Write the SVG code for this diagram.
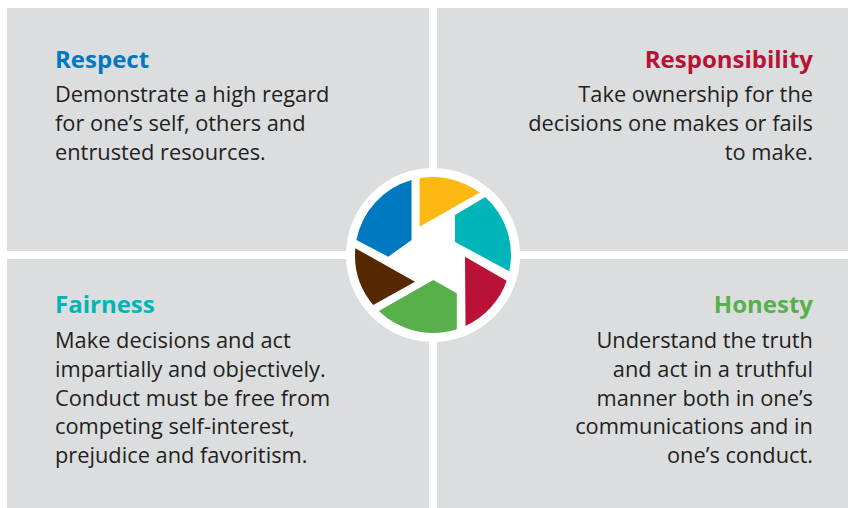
<svg xmlns="http://www.w3.org/2000/svg" width="848" height="508" viewBox="0 0 848 508">
  <style>
    .panel { fill: #DCDDDF; }
    .head { font-family: "Open Sans", "Noto Sans", "Liberation Sans", sans-serif; font-weight: 700; font-size: 24px; }
    .body { font-family: "Open Sans", "Noto Sans", "Liberation Sans", sans-serif; font-weight: 400; font-size: 21.8px; fill: #231F20; }
    .r { text-anchor: end; }
  </style>
  <rect width="848" height="508" fill="#FFFFFF"/>
  <g id="respect">
    <rect class="panel" x="7" y="8" width="422" height="243"/>
    <text class="head" x="55" y="68" fill="#0079C1">Respect</text>
    <text class="body" x="55" y="102">Demonstrate a high regard</text>
    <text class="body" x="55" y="131">for one’s self, others and</text>
    <text class="body" x="55" y="160">entrusted resources.</text>
  </g>
  <g id="responsibility">
    <rect class="panel" x="437" y="8" width="411" height="243"/>
    <text class="head r" x="813" y="68" fill="#BA1237">Responsibility</text>
    <text class="body r" x="813" y="102">Take ownership for the</text>
    <text class="body r" x="813" y="131">decisions one makes or fails</text>
    <text class="body r" x="813" y="160">to make.</text>
  </g>
  <g id="fairness">
    <rect class="panel" x="7" y="259" width="422" height="249"/>
    <text class="head" x="55" y="313" fill="#00B5B8">Fairness</text>
    <text class="body" x="55" y="348">Make decisions and act</text>
    <text class="body" x="55" y="377">impartially and objectively.</text>
    <text class="body" x="55" y="405.5">Conduct must be free from</text>
    <text class="body" x="55" y="434">competing self-interest,</text>
    <text class="body" x="55" y="463">prejudice and favoritism.</text>
  </g>
  <g id="honesty">
    <rect class="panel" x="437" y="259" width="411" height="249"/>
    <text class="head r" x="813" y="313" fill="#57B04A">Honesty</text>
    <text class="body r" x="813" y="348">Understand the truth</text>
    <text class="body r" x="813" y="377">and act in a truthful</text>
    <text class="body r" x="813" y="405.5">manner both in one’s</text>
    <text class="body r" x="813" y="434">communications and in</text>
    <text class="body r" x="813" y="463">one’s conduct.</text>
  </g>
  <g id="aperture">
    <circle cx="433" cy="255" r="87" fill="#FFFFFF"/>
    <path d="M419.5,178.2 A78,78 0 0 1 479.8,192.6 L419.5,226.7 Z" fill="#FDB913"/>
    <path d="M455,215 L485.2,197.0 A78,78 0 0 1 509.3,271.2 L455,242 Z" fill="#00B5B8"/>
    <path d="M465,256.7 L506.7,280.7 A78,78 0 0 1 465.5,325.9 Z" fill="#BA1237"/>
    <path d="M456.8,293.3 L456.8,329.3 A78,78 0 0 1 378.8,311.1 L433.3,280 Z" fill="#57B04A"/>
    <path d="M415,281.7 L373.2,305.1 A78,78 0 0 1 355.3,248.2 Z" fill="#552800"/>
    <path d="M356.4,240.1 A78,78 0 0 1 411.5,180.0 L411.5,240 L388.3,256.7 Z" fill="#0079C1"/>
  </g>
</svg>
